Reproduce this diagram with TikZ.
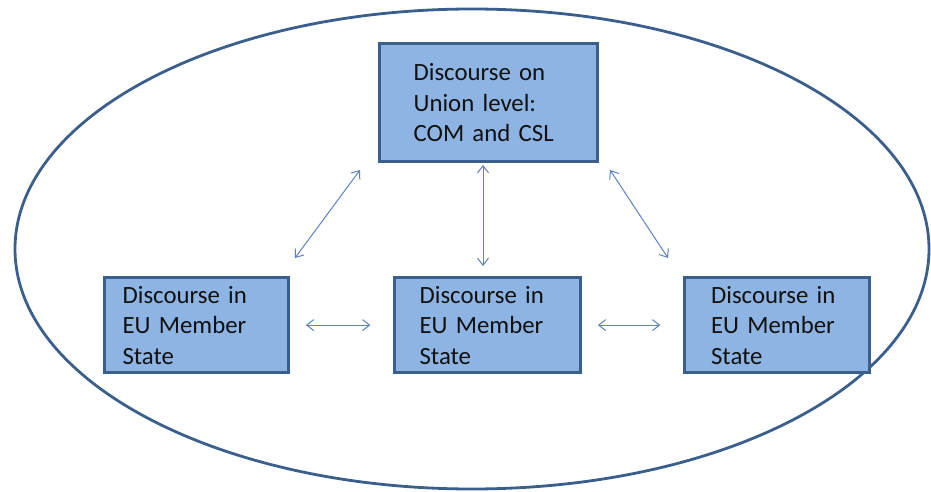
\documentclass[tikz,border=0pt]{standalone}
\usepackage{fontspec}
\setmainfont{Carlito}
\usetikzlibrary{arrows.meta}
\definecolor{boxfill}{HTML}{8EB4E3}
\definecolor{boxline}{HTML}{3A5F8D}
\definecolor{linkline}{HTML}{5B82BF}
\definecolor{textcol}{HTML}{111111}
\tikzset{
  stagebox/.style={draw=boxline, line width=2.6pt, fill=boxfill, rectangle,
    anchor=north west, align=left, text=textcol, inner ysep=0pt,
    font=\fontsize{24.8}{30.5}\selectfont},
  link/.style={draw=linkline, line width=1pt,
    {Straight Barb[length=7pt,width=11pt,line width=1pt]}-{Straight Barb[length=7pt,width=11pt,line width=1pt]}},
  frame/.style={draw=boxline, line width=2.8pt}
}
\begin{document}
\begin{tikzpicture}[x=1pt,y=-1pt]
  \useasboundingbox (0,0) rectangle (931,492);
  % enclosing ellipse
  \draw[frame] (472,249) ellipse [x radius=457, y radius=240];

  % discourse boxes
  \node[stagebox, minimum width=218, minimum height=118, text width=150, inner xsep=30.5]
    (union) at (378.3,42.3) {Discourse on\\Union level:\\COM and CSL};
  \node[stagebox, minimum width=184, minimum height=95, text width=148, inner xsep=15.5]
    (left) at (103.3,276.3) {Discourse in\\EU Member\\State};
  \node[stagebox, minimum width=186, minimum height=95, text width=136, inner xsep=22.5]
    (mid) at (393.3,276.3) {Discourse in\\EU Member\\State};
  \node[stagebox, minimum width=185, minimum height=95, text width=132, inner xsep=25]
    (right) at (683.3,276.3) {Discourse in\\EU Member\\State};

  % connector end points
  \coordinate (ul) at (360,170);
  \coordinate (ll) at (295,258);
  \coordinate (ur) at (610,170);
  \coordinate (lr) at (668,258);
  \coordinate (um) at (483,165);
  \coordinate (lm) at (483,266);

  % connectors
  \draw[link] (ll) -- (ul);
  \draw[link] (lr) -- (ur);
  \draw[link] (lm) -- (um);
  \draw[link, shorten <=16pt, shorten >=23pt] (left.east) -- (mid.west);
  \draw[link, shorten <=16pt, shorten >=23pt] (mid.east) -- (right.west);
\end{tikzpicture}
\end{document}
